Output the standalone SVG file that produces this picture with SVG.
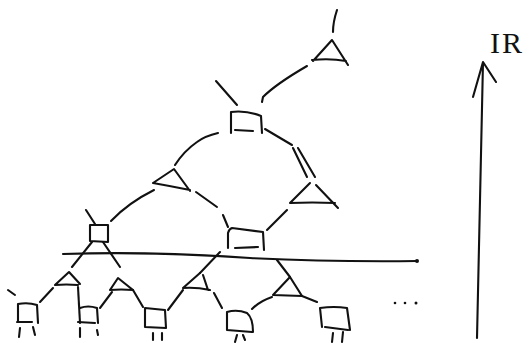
<svg xmlns="http://www.w3.org/2000/svg" width="529" height="343" viewBox="0 0 529 343">
<style>
.s{fill:none;stroke:#111;stroke-width:2.1;stroke-linecap:round;stroke-linejoin:round}
.d{fill:#111}
.t{font-family:"Liberation Serif",serif;font-size:30px;fill:#111}
</style>
<rect width="529" height="343" fill="#fff"/>
<g id="connectors" class="s">
<path d="M337,10 Q333,22 333,32"/>
<path d="M307,66 Q276,84 263,97 L262,102"/>
<path d="M216,81 L237,105"/>
<path d="M218,133 Q205,136 197,142 Q184,151 175,165"/>
<path d="M154,190 Q128,203 111,221"/>
<path d="M196,192 L217,207 M223,215 L228,227"/>
<path d="M265,129 L292,145 M293,148 L307,177 M298,148 L315,177"/>
<path d="M287,210 L267,230"/>
<path d="M86,210 L95,224"/>
<path d="M92,242 L72,267"/>
<path d="M103,242 L120,267"/>
<path d="M63,254 Q150,251 250,258 Q330,262 417,261"/>
<path d="M220,252 L200,273"/>
<path d="M277,260 L290,277"/>
<path d="M53,288 L40,302"/>
<path d="M8,290 L15,295"/>
<path d="M78,287 Q79,305 80,323"/>
<path d="M112,292 L100,308"/>
<path d="M133,290 L143,307"/>
<path d="M183,290 L168,310"/>
<path d="M214,293 L222,308"/>
<path d="M272,297 Q260,301 252,309"/>
<path d="M302,296 L317,302"/>
<path d="M477,338 L483,62 M473,97 L483,62 L496,82"/>
</g>
<g id="dots">
<circle class="d" cx="417" cy="261" r="2"/>
<circle class="d" cx="395" cy="303" r="1.3"/>
<circle class="d" cx="405" cy="303" r="1.3"/>
<circle class="d" cx="416" cy="303" r="1.5"/>
</g>
<g id="tri0" class="s"><path d="M313,61 L332,40 L348,65 M312,60 Q330,58 346,61"/></g>
<g id="sq0" class="s"><path d="M231,133 L231,112 Q246,110 261,116 L262,133 M235,130 L253,131"/></g>
<g id="tri1" class="s"><path d="M153,183 L174,169 L190,191 M153,183 Q170,186 190,190"/></g>
<g id="tri2" class="s"><path d="M290,203 L310,183 M316,185 L338,208 M290,203 Q312,202 335,203"/></g>
<g id="sq1" class="s"><path d="M90,225 L108,225 L108,242 L90,241 Z"/></g>
<g id="sq2" class="s"><path d="M228,248 L228,233 Q229,229 232,228 L263,232 L264,250 M235,248 L258,247"/></g>
<g id="t1" class="s"><path d="M55,285 L69,272 L80,284 M55,285 Q66,284 78,285"/></g>
<g id="t2" class="s"><path d="M110,290 L118,278 L133,290 M110,290 Q121,289 133,290"/></g>
<g id="t3" class="s"><path d="M183,288 L200,273 M203,275 L208,290 M183,288 Q196,287 210,290"/></g>
<g id="t4" class="s"><path d="M273,295 L290,277 L302,296 M273,295 L302,296"/></g>
<g id="s1" class="s"><path d="M18,322 L18,304 Q28,302 37,305 L38,323 M17,322 L32,322 M20,328 L19,337 M33,327 L35,335"/></g>
<g id="s2" class="s"><path d="M80,308 Q88,305 97,308 L98,323 M78,322 L95,323 M80,328 L80,337 M97,330 L98,335"/></g>
<g id="s3" class="s"><path d="M145,308 L165,310 L166,328 L145,327 Z M153,333 L153,340 M162,333 L162,340"/></g>
<g id="s4" class="s"><path d="M227,330 L227,312 Q237,309 247,313 Q253,318 253,332 M227,330 L252,332 M237,335 L235,342 M243,335 L245,340"/></g>
<g id="s5" class="s"><path d="M322,327 L320,308 Q334,306 347,308 L350,330 M325,327 L348,330 M333,333 L332,342 M343,332 L342,342"/></g>
<g id="label"><text class="t" x="490" y="53" letter-spacing="2">IR</text></g>
</svg>
